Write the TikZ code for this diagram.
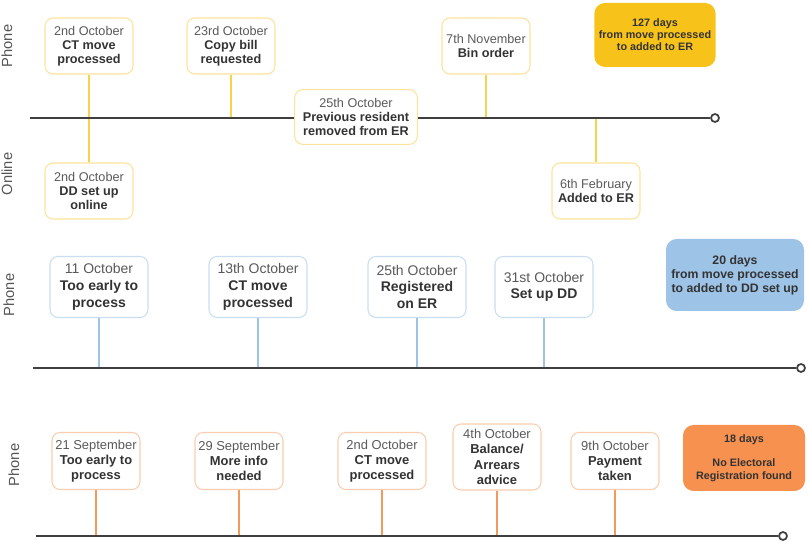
\documentclass[tikz,border=0pt]{standalone}
\usepackage{fontspec}
\setmainfont{Liberation Sans}
\usepackage{tikz}
\usetikzlibrary{backgrounds}

\newcommand{\evdate}[1]{{\mdseries\color{dategrey}#1}\\}

\begin{document}
\begin{tikzpicture}[x=0.75pt, y=-0.75pt,
    event/.style={draw, fill=white, rounded corners=6pt, line width=0.8pt, align=center, inner sep=2pt, font=\bfseries, text=desctext},
    summary/.style={rounded corners=8pt, align=center, inner sep=2pt, text=desctext},
    lane/.style={rotate=90, text=lanegrey, font=\fontsize{11}{13}\selectfont},
    timeline/.style={draw=linegrey, line width=1.6pt},
    endmark/.style={circle, draw=linegrey, fill=white, line width=1.3pt, minimum size=6pt, inner sep=0pt},
    ylink/.style={draw=yellowline, line width=1.5pt},
    blink/.style={draw=blueline, line width=1.5pt},
    olink/.style={draw=orangeline, line width=1.5pt}]
  \definecolor{dategrey}{HTML}{5A5A5A} \definecolor{desctext}{HTML}{333333}
  \definecolor{lanegrey}{HTML}{555555} \definecolor{linegrey}{HTML}{3F3F3F}
  \definecolor{yellowline}{HTML}{F8D14E} \definecolor{yellowedge}{HTML}{FCE39A} \definecolor{yellowfill}{HTML}{F7C31A}
  \definecolor{blueline}{HTML}{9DC3E6} \definecolor{blueedge}{HTML}{C9DEF3} \definecolor{bluefill}{HTML}{9DC3E6}
  \definecolor{orangeline}{HTML}{F4995C} \definecolor{orangeedge}{HTML}{FBCDB0} \definecolor{orangefill}{HTML}{F69150}
  \useasboundingbox (0,0) rectangle (808,548);

  % first case
  \node[lane] (lp1) at (7,46) {Phone};
  \node[lane] (lo1) at (7,174) {Online};
  \node[event, draw=yellowedge, minimum width=66pt, minimum height=42pt, font=\fontsize{9.5}{10.5}\selectfont\bfseries] (ct1) at (89,46) {\evdate{2nd October}CT move\\processed};
  \node[event, draw=yellowedge, minimum width=66pt, minimum height=42pt, font=\fontsize{9.5}{10.5}\selectfont\bfseries] (dd1) at (89,191) {\evdate{2nd October}DD set up\\online};
  \node[event, draw=yellowedge, minimum width=66pt, minimum height=42pt, font=\fontsize{9.5}{10.5}\selectfont\bfseries] (cb1) at (231,46) {\evdate{23rd October}Copy bill\\requested};
  \node[event, draw=yellowedge, minimum width=92pt, minimum height=41pt, font=\fontsize{9.5}{10.5}\selectfont\bfseries] (pr1) at (356,117) {\evdate{25th October}Previous resident\\removed from ER};
  \node[event, draw=yellowedge, minimum width=66pt, minimum height=42pt, font=\fontsize{9.5}{10.5}\selectfont\bfseries] (bo1) at (486,46) {\evdate{7th November}Bin order};
  \node[event, draw=yellowedge, minimum width=66pt, minimum height=42pt, font=\fontsize{9.5}{10.5}\selectfont\bfseries] (ad1) at (596,191) {\evdate{6th February}Added to ER};
  \node[summary, fill=yellowfill, minimum width=91pt, minimum height=48pt, font=\fontsize{8.1}{9}\selectfont\bfseries] (sm1) at (655,35) {127 days\\from move processed\\to added to ER};
  \coordinate (s1) at (30,118);
  \node[endmark] (e1) at (715,118) {};
  \coordinate (cb1t) at (231,118);
  \coordinate (bo1t) at (486,118);
  \coordinate (ad1t) at (596,118);

  % second case
  \node[lane] (lp2) at (9,295) {Phone};
  \node[event, draw=blueedge, minimum width=73.5pt, minimum height=45.75pt, font=\fontsize{10.5}{12.5}\selectfont\bfseries] (ea2) at (99,287) {\evdate{11 October}Too early to\\process};
  \node[event, draw=blueedge, minimum width=73.5pt, minimum height=45.75pt, font=\fontsize{10.5}{12.5}\selectfont\bfseries] (ct2) at (258,287) {\evdate{13th October}CT move\\processed};
  \node[event, draw=blueedge, minimum width=73.5pt, minimum height=45.75pt, font=\fontsize{10.5}{12.5}\selectfont\bfseries] (re2) at (417,287) {\evdate{25th October}Registered\\on ER};
  \node[event, draw=blueedge, minimum width=73.5pt, minimum height=45.75pt, font=\fontsize{10.5}{12.5}\selectfont\bfseries] (dd2) at (544,287) {\evdate{31st October}Set up DD};
  \node[summary, fill=bluefill, minimum width=103.5pt, minimum height=54pt, font=\fontsize{9.2}{10.5}\selectfont\bfseries] (sm2) at (735,275) {20 days\\from move processed\\to added to DD set up};
  \coordinate (s2) at (33,368);
  \node[endmark] (e2) at (801,368) {};
  \coordinate (ea2t) at (99,368);
  \coordinate (ct2t) at (258,368);
  \coordinate (re2t) at (417,368);
  \coordinate (dd2t) at (544,368);

  % third case
  \node[lane] (lp3) at (14,465) {Phone};
  \node[event, draw=orangeedge, minimum width=66pt, minimum height=42.75pt, font=\fontsize{9.7}{11.5}\selectfont\bfseries] (ea3) at (96,461) {\evdate{21 September}Too early to\\process};
  \node[event, draw=orangeedge, minimum width=66pt, minimum height=42.75pt, font=\fontsize{9.7}{11.5}\selectfont\bfseries] (mi3) at (239,461) {\evdate{29 September}More info\\needed};
  \node[event, draw=orangeedge, minimum width=66pt, minimum height=42.75pt, font=\fontsize{9.7}{11.5}\selectfont\bfseries] (ct3) at (382,461) {\evdate{2nd October}CT move\\processed};
  \node[event, draw=orangeedge, minimum width=66pt, minimum height=49.5pt, font=\fontsize{9.7}{11.5}\selectfont\bfseries] (ba3) at (497,457) {\evdate{4th October}Balance/\\Arrears\\advice};
  \node[event, draw=orangeedge, minimum width=66pt, minimum height=42.75pt, font=\fontsize{9.7}{11.5}\selectfont\bfseries] (pt3) at (615,461) {\evdate{9th October}Payment\\taken};
  \node[summary, fill=orangefill, minimum width=91.5pt, minimum height=49.5pt, font=\fontsize{8.1}{9.75}\selectfont\bfseries] (sm3) at (744,458) {18 days\\[8pt]No Electoral\\Registration found};
  \coordinate (s3) at (36,536);
  \node[endmark] (e3) at (783,536) {};
  \coordinate (ea3t) at (96,536);
  \coordinate (mi3t) at (239,536);
  \coordinate (ct3t) at (382,536);
  \coordinate (ba3t) at (497,536);
  \coordinate (pt3t) at (615,536);

  \begin{scope}[on background layer]
    \draw[ylink] (ct1) -- (dd1);
    \draw[ylink] (cb1) -- (cb1t);
    \draw[ylink] (bo1) -- (bo1t);
    \draw[ylink] (ad1) -- (ad1t);
    \draw[timeline] (s1) -- (e1);
    \draw[blink] (ea2) -- (ea2t);
    \draw[blink] (ct2) -- (ct2t);
    \draw[blink] (re2) -- (re2t);
    \draw[blink] (dd2) -- (dd2t);
    \draw[timeline] (s2) -- (e2);
    \draw[olink] (ea3) -- (ea3t);
    \draw[olink] (mi3) -- (mi3t);
    \draw[olink] (ct3) -- (ct3t);
    \draw[olink] (ba3) -- (ba3t);
    \draw[olink] (pt3) -- (pt3t);
    \draw[timeline] (s3) -- (e3);
  \end{scope}
\end{tikzpicture}
\end{document}
